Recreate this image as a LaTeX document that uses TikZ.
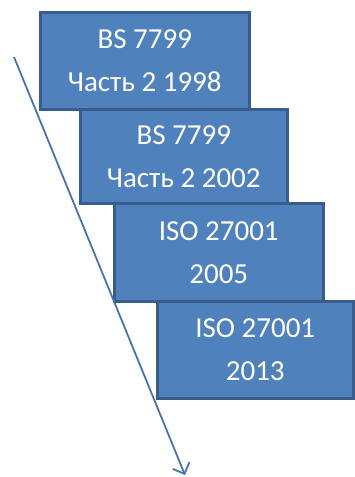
\documentclass[tikz,border=0pt]{standalone}
\usepackage{fontspec}
\setmainfont{Carlito}
\usetikzlibrary{arrows.meta}
\definecolor{stepfill}{HTML}{4F81BD}
\definecolor{stepline}{HTML}{385D8A}
\tikzset{
  stdbox/.style={draw=stepline, fill=stepfill, line width=2.5pt, anchor=north west,
    inner sep=0pt, align=center, text=white, font=\fontsize{29}{43}\selectfont},
}
\begin{document}
\begin{tikzpicture}[x=1pt,y=-1pt]
    \useasboundingbox (0,0) rectangle (354,477);
    %boxes
    \node[stdbox, minimum width=209pt, minimum height=97pt] (bs98) at (39,11)
        {BS 7799\\Часть 2 1998};
    \node[stdbox, minimum width=207pt, minimum height=94pt] (bs02) at (79,108)
        {BS 7799\\Часть 2 2002};
    \node[stdbox, minimum width=209pt, minimum height=98pt] (iso05) at (113,202)
        {ISO 27001\\2005};
    \node[stdbox, minimum width=196pt, minimum height=97pt] (iso13) at (156,300)
        {ISO 27001\\2013};
%time arrow
\coordinate (t start) at (14,57);
\coordinate (t end) at (185,475);
\draw[stepfill!90!black, line width=1.8pt, -{Straight Barb[length=9pt,width=18pt]}] (t start) -- (t end);
\end{tikzpicture}
\end{document}
